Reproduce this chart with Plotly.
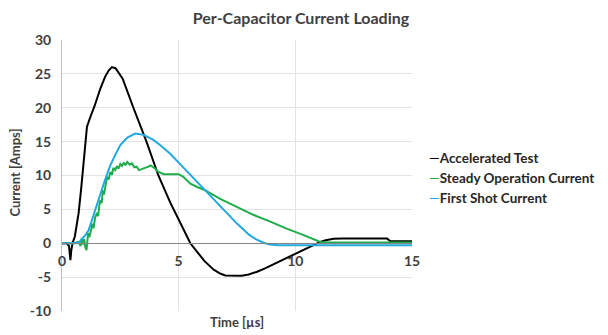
import plotly.graph_objects as go

# Accelerated Test (black)
accel_t = [0, 0.2, 0.3, 0.36, 0.4, 0.45, 0.55, 0.71, 0.82, 0.93, 1.07, 1.21, 1.4, 1.64, 1.85, 2.0, 2.14, 2.3, 2.6,
           3.06, 3.62, 4.13, 4.64, 5.1, 5.5, 5.8, 6.1, 6.5, 6.8, 7.0, 7.35, 7.7, 8.0, 8.36, 8.7,
           9.0, 9.36, 9.79, 10.2, 10.5, 10.78, 11.07, 11.3, 11.64, 12.0, 13.0, 13.93, 14.07, 14.5, 15.0]
accel_i = [0, 0, -0.4, -2.5, -1.0, 0, 1.0, 4.4, 8.0, 11.8, 17.2, 18.6, 20.3, 22.8, 24.6, 25.5, 26.0, 25.8, 24.3,
           20.0, 15.0, 10.0, 6.0, 2.8, 0.0, -1.3, -2.6, -3.9, -4.5, -4.75, -4.8, -4.8, -4.6, -4.2, -3.7,
           -3.2, -2.7, -2.0, -1.25, -0.7, -0.27, 0.2, 0.45, 0.65, 0.7, 0.7, 0.7, 0.3, 0.3, 0.3]

# Steady Operation Current (green)
steady_t = [0, 0.5, 0.7, 0.8, 0.85, 0.9, 0.95, 1.0, 1.05, 1.08, 1.12, 1.18, 1.25, 1.3, 1.35, 1.42, 1.5, 1.55, 1.6, 1.65,
            1.7, 1.75, 1.8, 1.87, 1.93, 2.0, 2.07, 2.14, 2.2, 2.28, 2.35, 2.42, 2.5, 2.57, 2.65, 2.72, 2.8, 2.9, 3.0, 3.1,
            3.2, 3.3, 3.4, 3.5, 3.6, 3.7, 3.8, 3.9, 4.0, 4.1, 4.2, 4.36, 4.6, 5.0, 5.2, 5.5, 5.8, 6.14, 6.8, 7.5,
            8.2, 8.93, 9.6, 10.36, 10.8, 11.07, 11.5, 15.0]
steady_i = [0, 0, 0.2, -0.4, 0.8, -0.2, 0.6, -0.6, -1.0, 0.5, 1.5, 0.9, 2.4, 2.9, 2.2, 3.8, 4.5, 4.0, 5.6, 6.4,
            5.9, 7.8, 7.2, 8.7, 9.8, 9.4, 10.5, 10.1, 11.1, 10.8, 11.4, 11.0, 11.7, 11.4, 11.9, 11.5, 12.0, 11.6, 11.8, 11.2,
            11.3, 10.8, 10.9, 11.0, 11.2, 11.3, 11.5, 11.3, 11.0, 10.6, 10.4, 10.2, 10.2, 10.2, 9.8, 8.8, 8.3, 7.8, 6.5, 5.4,
            4.2, 3.2, 2.2, 1.2, 0.6, 0.2, 0.1, 0.1]

# First Shot Current (blue)
first_t = [0, 0.6, 0.75, 0.86, 1.0, 1.14, 1.3, 1.43, 1.65, 1.86, 2.07, 2.28, 2.5, 2.8, 3.14, 3.5, 3.9, 4.2, 4.5, 4.64,
           5.0, 5.5, 6.14, 6.8, 7.5, 8.0, 8.3, 8.64, 8.9, 9.3, 15.0]
first_i = [0, 0, 0.2, 0.6, 1.2, 1.9, 3.5, 4.9, 7.3, 9.5, 11.5, 13.0, 14.5, 15.6, 16.2, 16.0, 15.3, 14.5, 13.7, 13.2,
           11.9, 10.1, 7.8, 5.4, 2.9, 1.3, 0.6, 0.07, -0.2, -0.3, -0.3]

series_names = ["Accelerated Test", "Steady Operation Current", "First Shot Current"]
series_colors = ["#000000", "#1fad4b", "#21a8de"]

x_ticks = [0, 5, 10, 15]
y_ticks = [-10, -5, 0, 5, 10, 15, 20, 25, 30]

FONT = "Lato"
TXT = "#404040"

# page offset (browser body margin) and target plot box in screen pixels
OFF = 8
PL, PR, PT, PB = 61.7, 411.7, 39.5, 311.0
W, H = 608, 335


def px(x):
    return (x - PL) / (PR - PL)


def py(y):
    return (PB - y) / (PB - PT)


fig = go.Figure()
for t, i, name, col in zip([accel_t, steady_t, first_t], [accel_i, steady_i, first_i], series_names, series_colors):
    fig.add_trace(go.Scatter(x=t, y=i, mode="lines", name=name, line=dict(color=col, width=2), showlegend=False))

# legend as annotations
for k, (name, col) in enumerate(zip(series_names, series_colors)):
    fig.add_annotation(xref="paper", yref="paper", x=px(427), y=py(158 + 20 * k),
                       xanchor="left", yanchor="middle", showarrow=False,
                       text=f"<span style='color:{col}'>—</span><b>{name}</b>",
                       font=dict(family=FONT, size=13.5, color="#262626"))

fig.add_annotation(xref="paper", yref="paper", x=0.5, y=py(322), xanchor="center", yanchor="middle",
                   showarrow=False, text="<b>Time [µs]</b>", font=dict(family=FONT, size=13, color=TXT))
fig.add_annotation(xref="paper", yref="paper", x=px(15), y=py(172), xanchor="center", yanchor="middle",
                   showarrow=False, textangle=-90, text="<b>Current [Amps]</b>",
                   font=dict(family=FONT, size=13, color=TXT))

fig.update_layout(
    width=W, height=H,
    margin=dict(l=PL - OFF, r=W - (PR - OFF), t=PT - OFF, b=H - (PB - OFF)),
    paper_bgcolor="white", plot_bgcolor="white",
    title=dict(text="<b>Per-Capacitor Current Loading</b>", x=(301 - OFF) / W, xanchor="center",
               y=1 - (18 - OFF) / H, yanchor="middle", font=dict(family=FONT, size=16, color=TXT)),
    font=dict(family=FONT, size=12, color=TXT),
    xaxis=dict(range=[0, 15], tickvals=x_ticks, ticktext=[f"<b>{v}</b>" for v in x_ticks],
               anchor="free", position=0.25, showline=True, linecolor="#868686", linewidth=1,
               showgrid=True, gridcolor="#e3e3e3", zeroline=False,
               ticks="outside", ticklen=5, tickcolor="rgba(0,0,0,0)", automargin=False,
               tickfont=dict(family=FONT, size=14, color=TXT)),
    yaxis=dict(range=[-10, 30], tickvals=y_ticks, ticktext=[f"<b>{v}</b>" for v in y_ticks],
               showline=True, linecolor="#bfbfbf", linewidth=1, showgrid=True, gridcolor="#e3e3e3",
               zeroline=False, ticks="outside", ticklen=7, tickcolor="rgba(0,0,0,0)", automargin=False,
               tickfont=dict(family=FONT, size=14, color=TXT)),
)

fig.write_html("out.html")
